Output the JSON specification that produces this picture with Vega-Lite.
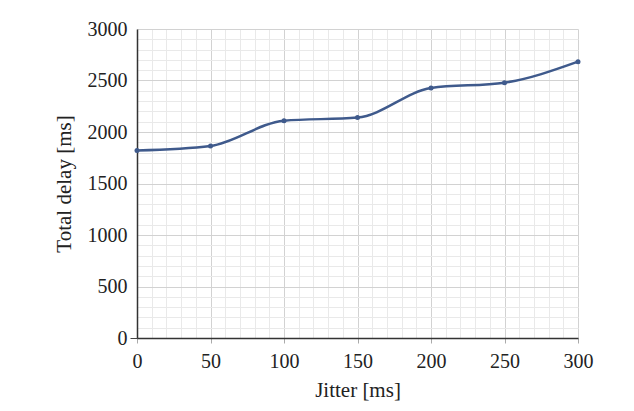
{
  "$schema": "https://vega.github.io/schema/vega-lite/v6.json",
  "width": 441,
  "height": 309,
  "autosize": {"type": "none"},
  "padding": {"left": 137, "top": 29, "right": 56, "bottom": 73},
  "background": "white",
  "data": {"values": [
    {"jitter": 0, "delay": 1820},
    {"jitter": 50, "delay": 1864},
    {"jitter": 100, "delay": 2110},
    {"jitter": 150, "delay": 2140},
    {"jitter": 200, "delay": 2427},
    {"jitter": 250, "delay": 2479},
    {"jitter": 300, "delay": 2683}
  ]},
  "config": {
    "view": {"stroke": null},
    "font": "Times New Roman, Liberation Serif, serif",
    "axis": {
      "labelFont": "Times New Roman, Liberation Serif, serif",
      "titleFont": "Times New Roman, Liberation Serif, serif",
      "labelFontSize": 20,
      "titleFontSize": 21,
      "labelColor": "#222",
      "titleColor": "#222",
      "titleFontWeight": "normal",
      "domainColor": "#333",
      "domainWidth": 1.5,
      "tickColor": "#aaa",
      "tickSize": 5,
      "gridWidth": 1,
      "labelOverlap": false,
      "labelFlush": false,
      "labelBound": false
    }
  },
  "encoding": {
    "x": {
      "field": "jitter", "type": "quantitative",
      "scale": {"domain": [0, 300], "nice": false},
      "axis": {
        "title": "Jitter [ms]",
        "values": [0,10,20,30,40,50,60,70,80,90,100,110,120,130,140,150,160,170,180,190,200,210,220,230,240,250,260,270,280,290,300],
        "labelExpr": "datum.value % 50 === 0 ? datum.label : ''",
        "gridColor": {"condition": {"test": "datum.value % 50 === 0", "value": "#d2d2d2"}, "value": "#e9e9e9"},
        "tickOpacity": {"condition": {"test": "datum.value % 50 === 0", "value": 1}, "value": 0},
        "labelPadding": 8,
        "titlePadding": 8
      }
    },
    "y": {
      "field": "delay", "type": "quantitative",
      "scale": {"domain": [0, 3000], "nice": false},
      "axis": {
        "title": "Total delay [ms]",
        "values": [0,100,200,300,400,500,600,700,800,900,1000,1100,1200,1300,1400,1500,1600,1700,1800,1900,2000,2100,2200,2300,2400,2500,2600,2700,2800,2900,3000],
        "labelExpr": "datum.value % 500 === 0 ? datum.label : ''",
        "format": "d",
        "gridColor": {"condition": {"test": "datum.value % 500 === 0", "value": "#d2d2d2"}, "value": "#e9e9e9"},
        "tickOpacity": {"condition": {"test": "datum.value === 0", "value": 1}, "value": 0},
        "tickColor": "#444",
        "tickSize": 7,
        "labelPadding": 3,
        "titlePadding": 13
      }
    }
  },
  "layer": [
    {
      "mark": {"type": "line", "interpolate": "monotone", "color": "#3f5a8c", "strokeWidth": 2.5}
    },
    {
      "mark": {"type": "point", "filled": true, "color": "#3f5a8c", "size": 25, "opacity": 1}
    }
  ]
}
